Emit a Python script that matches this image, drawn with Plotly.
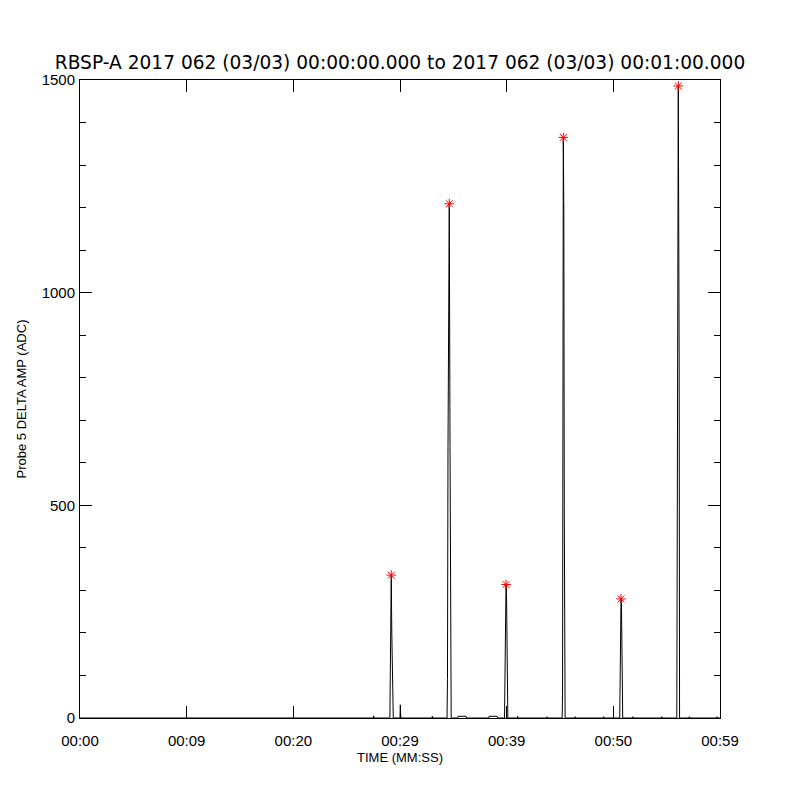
import plotly.graph_objects as go

# Time (seconds after 00:00:00) and Probe 5 delta amplitude (ADC)
time_s = [
    0.0,
    27.50, 27.53, 27.56,
    29.05, 29.09, 29.18, 29.23, 29.28, 29.33, 29.37,
    30.00, 30.03, 30.07,
    33.00, 33.03, 33.06,
    34.41, 34.45, 34.50, 34.62, 34.69, 34.74, 34.80,
    35.40, 35.45, 36.20, 36.25,
    38.30, 38.35, 39.10, 39.15,
    39.80, 39.84, 39.89, 39.94, 39.99, 40.03, 40.07, 40.11,
    41.00, 41.03, 41.06,
    43.75, 43.78, 43.81,
    45.20, 45.24, 45.31, 45.36, 45.40, 45.44, 45.48,
    46.40, 46.43, 46.46,
    49.06, 49.09, 49.12,
    50.60, 50.64, 50.68, 50.72, 50.76, 50.80, 50.84, 50.88,
    51.80, 51.83, 51.86,
    54.50, 54.53, 54.56,
    55.95, 55.99, 56.09, 56.13, 56.17, 56.21,
    57.10, 57.13, 57.16,
    59.70, 59.73, 59.76,
    60.0,
]
amp_adc = [
    0,
    0, 5, 0,
    0, 108, 336, 202, 110, 35, 0,
    0, 31, 0,
    0, 4, 0,
    0, 90, 640, 1209, 635, 80, 0,
    0, 4, 4, 0,
    0, 4, 4, 0,
    0, 180, 285, 314, 285, 180, 12, 0,
    0, 4, 0,
    0, 3, 0,
    0, 56, 1365, 1190, 500, 20, 0,
    0, 3, 0,
    0, 3, 0,
    0, 144, 260, 280, 270, 150, 15, 0,
    0, 3, 0,
    0, 3, 0,
    0, 850, 1486, 1150, 850, 0,
    0, 3, 0,
    0, 3, 0,
    0,
]

# Detected peaks (red asterisks)
peak_t = [29.18, 34.62, 39.94, 45.31, 50.72, 56.09]
peak_amp = [336, 1209, 314, 1365, 280, 1486]

x_tick_vals = [0, 10, 20, 30, 40, 50, 60]
x_tick_text = ["00:00", "00:09", "00:20", "00:29", "00:39", "00:50", "00:59"]
y_tick_vals = [0, 500, 1000, 1500]

title_text = "RBSP-A 2017 062 (03/03) 00:00:00.000 to 2017 062 (03/03) 00:01:00.000"

FONT = "Liberation Sans"

fig = go.Figure()
fig.add_trace(go.Scatter(
    x=time_s, y=amp_adc, mode="lines",
    line=dict(color="black", width=1),
    hoverinfo="skip",
))
fig.add_trace(go.Scatter(
    x=peak_t, y=peak_amp, mode="markers",
    marker=dict(symbol="asterisk-open", size=8, color="red",
                line=dict(color="red", width=1)),
    cliponaxis=False,
))

fig.update_layout(
    width=800, height=800,
    margin=dict(l=72, r=88, t=72, b=90),
    paper_bgcolor="white", plot_bgcolor="white",
    showlegend=False,
    font=dict(family=FONT, color="black"),
    title=dict(text=title_text, x=(400 - 8) / 800, xanchor="center",
               y=1 - 54 / 800, yanchor="middle", yref="container",
               font=dict(family="DejaVu Sans", size=18.6, color="black")),
)
fig.update_xaxes(
    range=[0, 60], tickmode="array", tickvals=x_tick_vals, ticktext=x_tick_text,
    ticks="inside", ticklen=12, tickwidth=1, tickcolor="black",
    showline=True, linecolor="black", linewidth=1, mirror="ticks",
    showgrid=False, zeroline=False,
    tickfont=dict(family=FONT, size=15, color="black"),
    ticklabelstandoff=9,
    title=dict(text="TIME (MM:SS)", font=dict(family=FONT, size=13, color="black"),
               standoff=4),
)
fig.update_yaxes(
    range=[0, 1500], tickmode="array", tickvals=y_tick_vals,
    ticks="inside", ticklen=12, tickwidth=1, tickcolor="black",
    minor=dict(dtick=100, tick0=0, ticks="inside", ticklen=6, tickwidth=1,
               tickcolor="black", showgrid=False),
    showline=True, linecolor="black", linewidth=1, mirror="ticks",
    showgrid=False, zeroline=False,
    tickfont=dict(family=FONT, size=15, color="black"),
    ticklabelstandoff=1,
    title=dict(text="Probe 5 DELTA AMP (ADC)", font=dict(family=FONT, size=13, color="black"),
               standoff=12),
)

fig.write_html("out.html")
